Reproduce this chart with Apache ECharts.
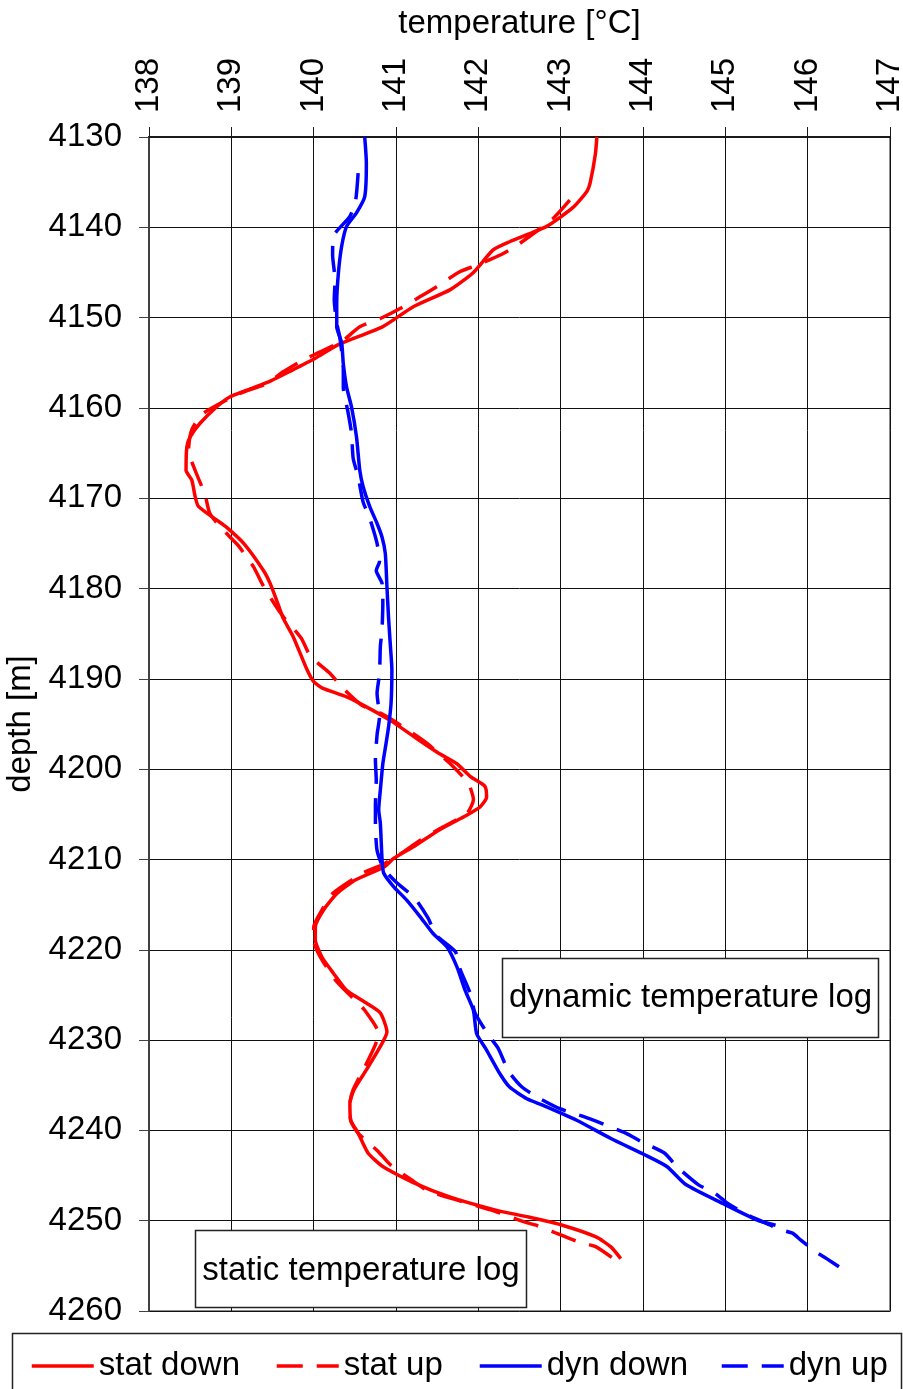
<!DOCTYPE html>
<html>
<head>
<meta charset="utf-8">
<script src="https://cdn.jsdelivr.net/npm/echarts@6/dist/echarts.min.js"></script>
<style>
  html, body { margin: 0; padding: 0; background: #fff; }
  #chart { width: 903px; height: 1389px; }
</style>
</head>
<body>
<div id="chart"></div>
<script>
// Temperature logs (depth in m, temperature in °C)
const seriesNames = ['stat down', 'stat up', 'dyn down', 'dyn up'];

const statDownDepth = [4130, 4132, 4135, 4136, 4137.8, 4139.9, 4141.6, 4142.5, 4145, 4146.9, 4148.8, 4151, 4153, 4154.5, 4156, 4157, 4158, 4158.8, 4159.9, 4161.7, 4163.2, 4164.3, 4166.9, 4168, 4169.8, 4170.9, 4172.4, 4173.2, 4175, 4178, 4179.4, 4181.3, 4183.3, 4185.3, 4189, 4190.3, 4191, 4192, 4193.1, 4194.6, 4196.6, 4198.3, 4199.4, 4200.8, 4201.9, 4203.1, 4204.2, 4205.1, 4206.7, 4208.6, 4209.9, 4210.8, 4212.3, 4213.8, 4215.6, 4217.5, 4218.9, 4220.8, 4222.6, 4224.5, 4225.9, 4227, 4229.1, 4230.7, 4233.3, 4235.5, 4237, 4238.9, 4240.3, 4242.5, 4244, 4245.7, 4247.4, 4248.8, 4249.6, 4250.5, 4251.8, 4252.9, 4254.2];
const statDownTemp = [143.44, 143.42, 143.36, 143.32, 143.15, 142.83, 142.38, 142.18, 141.94, 141.66, 141.21, 140.84, 140.3, 140.02, 139.7, 139.48, 139.2, 138.98, 138.82, 138.62, 138.5, 138.46, 138.45, 138.52, 138.56, 138.6, 138.82, 138.94, 139.15, 139.39, 139.47, 139.55, 139.63, 139.75, 139.92, 140.0, 140.1, 140.4, 140.64, 140.93, 141.25, 141.53, 141.74, 141.9, 142.08, 142.1, 142.02, 141.86, 141.53, 141.21, 140.97, 140.86, 140.5, 140.28, 140.12, 140.02, 140.02, 140.1, 140.24, 140.4, 140.64, 140.81, 140.89, 140.81, 140.64, 140.49, 140.44, 140.45, 140.54, 140.66, 140.84, 141.19, 141.66, 142.2, 142.61, 143.02, 143.43, 143.61, 143.73];

const statUpDepth = [4137, 4139, 4142, 4143.1, 4144.2, 4144.9, 4146.6, 4147.7, 4149, 4150.1, 4151, 4152.5, 4153.8, 4154.7, 4156, 4157.3, 4158.4, 4160.6, 4162.4, 4164.7, 4166.9, 4169.6, 4171.7, 4173.7, 4175.2, 4177.6, 4179.4, 4181.8, 4183.1, 4185.5, 4187.5, 4189.4, 4190.9, 4192.9, 4193.8, 4195.1, 4197.1, 4199.4, 4201.6, 4203.4, 4204.9, 4206.6, 4207.9, 4209.4, 4210.5, 4211.5, 4213.7, 4215.6, 4217.5, 4219, 4220.8, 4223.3, 4225.4, 4226.7, 4229.3, 4230.5, 4233, 4235.5, 4237, 4238.9, 4240.3, 4242.3, 4243.8, 4245.5, 4246.6, 4247.5, 4248.8, 4250.1, 4250.5, 4251.2, 4252.3, 4252.9, 4254.4];
const statUpTemp = [143.11, 142.91, 142.47, 142.26, 141.98, 141.78, 141.49, 141.29, 141.05, 140.81, 140.56, 140.36, 140.08, 139.87, 139.63, 139.43, 139.1, 138.66, 138.52, 138.48, 138.56, 138.68, 138.74, 138.92, 139.08, 139.27, 139.37, 139.53, 139.63, 139.85, 139.96, 140.2, 140.34, 140.58, 140.81, 141.05, 141.37, 141.66, 141.88, 141.94, 141.86, 141.53, 141.29, 141.05, 140.85, 140.6, 140.24, 140.1, 140.0, 140.0, 140.08, 140.26, 140.48, 140.62, 140.79, 140.75, 140.62, 140.48, 140.44, 140.45, 140.54, 140.78, 140.93, 141.19, 141.37, 141.66, 142.15, 142.55, 142.7, 142.9, 143.2, 143.43, 143.67];

const dynDownDepth = [4130, 4132.9, 4136.6, 4138.4, 4139.9, 4142.1, 4145.1, 4148.4, 4151, 4152.8, 4155.1, 4157.7, 4159.9, 4163.2, 4166.9, 4168.7, 4170.9, 4172.8, 4174.3, 4176.1, 4179.8, 4183.3, 4186.1, 4189, 4192.7, 4195.3, 4197.1, 4199.4, 4202.3, 4204.5, 4206, 4209.9, 4211.5, 4213, 4214.5, 4216.3, 4218.2, 4219.7, 4221.9, 4224.5, 4226.7, 4229.3, 4231.1, 4233.7, 4235.2, 4236.5, 4237.2, 4238.9, 4240.9, 4242.7, 4244, 4246, 4248.1, 4249.9, 4250.5];
const dynDownTemp = [140.62, 140.64, 140.62, 140.52, 140.4, 140.34, 140.3, 140.28, 140.28, 140.34, 140.36, 140.4, 140.46, 140.52, 140.56, 140.6, 140.68, 140.77, 140.83, 140.87, 140.89, 140.91, 140.93, 140.95, 140.94, 140.91, 140.88, 140.84, 140.81, 140.79, 140.81, 140.83, 140.85, 140.97, 141.13, 141.29, 141.45, 141.62, 141.74, 141.84, 141.94, 141.98, 142.1, 142.26, 142.38, 142.59, 142.78, 143.2, 143.61, 144.02, 144.29, 144.52, 144.97, 145.38, 145.61];

const dynUpDepth = [4134, 4137, 4138.8, 4141, 4143.1, 4145.8, 4148, 4150.6, 4152.3, 4155.8, 4157.7, 4160.6, 4162.8, 4165.6, 4167.6, 4170.4, 4172.2, 4175, 4177, 4178, 4179.4, 4181.6, 4184.6, 4186.4, 4189.4, 4191.6, 4194.2, 4196.2, 4199, 4201.2, 4204, 4206, 4209, 4211, 4212.5, 4214.3, 4216.5, 4218.4, 4220.2, 4222.2, 4224.8, 4227, 4229.4, 4230.9, 4233.5, 4235.2, 4236.5, 4237.6, 4238.5, 4239.2, 4240.3, 4241.3, 4242.5, 4244, 4246, 4247, 4248.1, 4249.5, 4250.5, 4251, 4251.4, 4252.1, 4253.4, 4254.2, 4255.1];
const dynUpTemp = [140.54, 140.51, 140.44, 140.24, 140.23, 140.26, 140.25, 140.28, 140.32, 140.36, 140.36, 140.42, 140.46, 140.48, 140.54, 140.6, 140.68, 140.77, 140.8, 140.76, 140.83, 140.84, 140.83, 140.81, 140.8, 140.77, 140.8, 140.77, 140.75, 140.76, 140.75, 140.75, 140.77, 140.85, 141.0, 141.23, 141.39, 141.49, 141.72, 141.78, 141.9, 141.96, 142.12, 142.24, 142.37, 142.53, 142.75, 142.99, 143.29, 143.49, 143.79, 143.99, 144.26, 144.41, 144.67, 144.88, 145.03, 145.3, 145.55, 145.67, 145.82, 145.91, 146.09, 146.23, 146.38];

// Axis ranges and ticks
const tempMin = 138, tempMax = 147, tempStep = 1;
const depthMin = 4130, depthMax = 4260, depthStep = 10;

// Text boxes inside the plot
const annotations = ['dynamic temperature log', 'static temperature log'];

const FONT = '"Liberation Sans", Arial, Helvetica, sans-serif';
const RED = '#ff0000', BLUE = '#0000ff';
const DASH = [26, 14];
const LINE_W = 3.5;

function pairs(temps, depths) {
  return depths.map((d, i) => [temps[i], d]);
}

function lineSeries(name, temps, depths, color, dashed) {
  return {
    name: name,
    type: 'line',
    data: pairs(temps, depths),
    showSymbol: false,
    symbol: 'none',
    smooth: 0.2,
    animation: false,
    lineStyle: { color: color, width: LINE_W, type: dashed ? DASH : 'solid', cap: 'butt' },
    itemStyle: { color: color },
    z: 3
  };
}

const legendLeft = [30, 275, 478, 720];
const legends = seriesNames.map((n, i) => ({
  data: [n],
  left: legendLeft[i],
  top: 1348,
  padding: 0,
  itemWidth: 62,
  itemHeight: 16,
  selectedMode: false,
  itemStyle: { opacity: 0 },
  lineStyle: { width: LINE_W },
  textStyle: { fontSize: 33, fontFamily: FONT, color: '#000', lineHeight: 36 }
}));

const chart = echarts.init(document.getElementById('chart'), null, { renderer: 'canvas' });

chart.setOption({
  backgroundColor: '#fff',
  animation: false,
  textStyle: { fontFamily: FONT },
  grid: {
    left: 149, right: 13, top: 137, bottom: 78,
    containLabel: false,
    outerBoundsMode: 'none',
    show: true, borderColor: '#8c8c8c', borderWidth: 2, backgroundColor: 'transparent'
  },
  xAxis: {
    type: 'value',
    position: 'top',
    min: tempMin, max: tempMax, interval: tempStep,
    name: 'temperature [°C]',
    nameLocation: 'middle',
    nameGap: 97,
    nameTextStyle: { fontSize: 33, fontFamily: FONT, color: '#000' },
    axisLine: { show: true, lineStyle: { color: '#1a1a1a', width: 2 } },
    axisTick: { show: true, length: 10, lineStyle: { color: '#1a1a1a', width: 1 } },
    axisLabel: { rotate: -90, margin: 24, fontSize: 33, fontFamily: FONT, color: '#000',
      formatter: v => String(v) },
    splitLine: { show: true, lineStyle: { color: '#111', width: 1 } }
  },
  yAxis: {
    type: 'value',
    inverse: true,
    min: depthMin, max: depthMax, interval: depthStep,
    name: 'depth [m]',
    nameLocation: 'middle',
    nameRotate: 90,
    nameGap: 100,
    nameTextStyle: { fontSize: 33, fontFamily: FONT, color: '#000' },
    axisLine: { show: true, lineStyle: { color: '#404040', width: 2 } },
    axisTick: { show: true, length: 10, lineStyle: { color: '#404040', width: 1 } },
    axisLabel: { margin: 27, fontSize: 33, fontFamily: FONT, color: '#000',
      formatter: v => String(v) },
    splitLine: { show: true, lineStyle: { color: '#111', width: 1 } }
  },
  legend: legends,
  series: [
    lineSeries(seriesNames[0], statDownTemp, statDownDepth, RED, false),
    lineSeries(seriesNames[1], statUpTemp, statUpDepth, RED, true),
    lineSeries(seriesNames[2], dynDownTemp, dynDownDepth, BLUE, false),
    lineSeries(seriesNames[3], dynUpTemp, dynUpDepth, BLUE, true)
  ],
  graphic: [
    {
      type: 'rect', z: 1, silent: true,
      shape: { x: 12.5, y: 1333.5, width: 889, height: 70 },
      style: { fill: 'transparent', stroke: '#222', lineWidth: 1.5 }
    },
    {
      type: 'group', z: 20, children: [
        {
          type: 'rect', z: 20,
          shape: { x: 502.5, y: 958.5, width: 376, height: 79 },
          style: { fill: '#fff', stroke: '#222', lineWidth: 1.5 }
        },
        {
          type: 'text', z: 21,
          x: 690.5, y: 998,
          style: { text: annotations[0], fontSize: 33, fontFamily: FONT, fill: '#000', align: 'center', verticalAlign: 'middle' }
        }
      ]
    },
    {
      type: 'group', z: 20, children: [
        {
          type: 'rect', z: 20,
          shape: { x: 195.5, y: 1230.5, width: 331, height: 77 },
          style: { fill: '#fff', stroke: '#222', lineWidth: 1.5 }
        },
        {
          type: 'text', z: 21,
          x: 361, y: 1271,
          style: { text: annotations[1], fontSize: 33, fontFamily: FONT, fill: '#000', align: 'center', verticalAlign: 'middle' }
        }
      ]
    }
  ]
});
</script>
</body>
</html>
